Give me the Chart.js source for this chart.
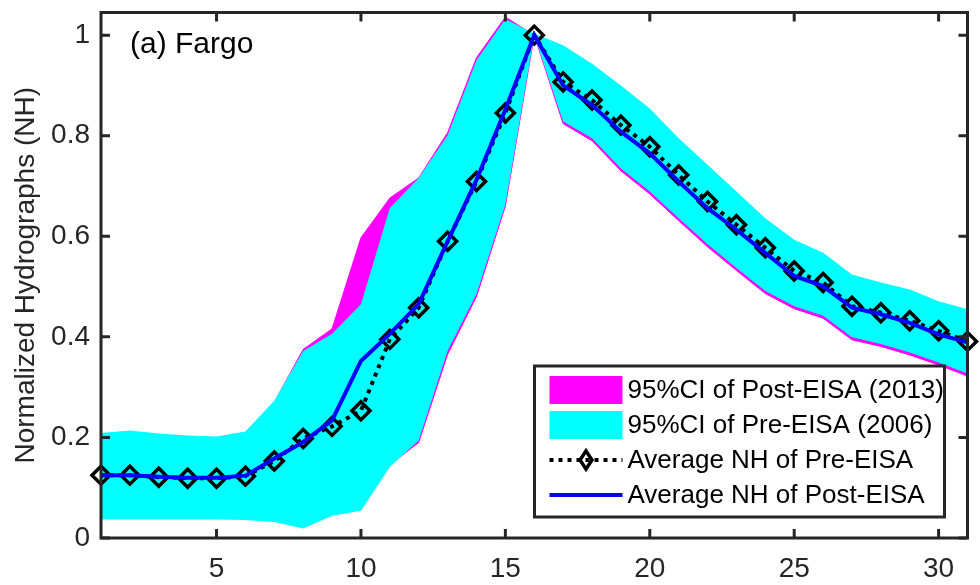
<!DOCTYPE html>
<html>
<head>
<meta charset="utf-8">
<script src="https://cdn.jsdelivr.net/npm/chart.js@4.4.1/dist/chart.umd.min.js"></script>
<style>
  html, body { margin: 0; padding: 0; background: #fff; }
  canvas { display: block; }
</style>
</head>
<body>
<canvas id="nhChart" width="980" height="585"></canvas>
<script>
// Days after event (x) and normalized hydrograph values
const days = [1,2,3,4,5,6,7,8,9,10,11,12,13,14,15,16,17,18,19,20,21,22,23,24,25,26,27,28,29,30,31];

const preAvg = [0.125,0.125,0.121,0.119,0.119,0.123,0.153,0.198,0.222,0.253,0.395,0.458,0.590,0.709,0.845,1.000,
  0.907,0.871,0.821,0.778,0.722,0.669,0.623,0.577,0.531,0.508,0.461,0.448,0.432,0.412,0.391];
const postAvg = [0.125,0.125,0.122,0.120,0.120,0.124,0.158,0.191,0.234,0.352,0.406,0.465,0.590,0.712,0.852,1.000,
  0.900,0.861,0.808,0.765,0.709,0.656,0.613,0.567,0.521,0.501,0.458,0.445,0.428,0.405,0.389];

// 95% CI of Pre-EISA (2006)
const preLow = [0.037,0.037,0.037,0.037,0.037,0.036,0.032,0.019,0.044,0.054,0.141,0.194,0.372,0.485,0.663,1.000,
  0.828,0.795,0.735,0.689,0.636,0.584,0.537,0.491,0.461,0.442,0.399,0.386,0.369,0.349,0.327];
const preHigh = [0.209,0.214,0.208,0.204,0.202,0.212,0.273,0.372,0.406,0.465,0.656,0.716,0.801,0.950,1.032,1.003,
  0.980,0.943,0.900,0.854,0.795,0.742,0.689,0.636,0.593,0.567,0.524,0.508,0.494,0.471,0.455];

// 95% CI of Post-EISA (2013)
const postLow = [0.040,0.040,0.040,0.040,0.040,0.039,0.035,0.022,0.047,0.058,0.145,0.190,0.365,0.480,0.660,1.000,
  0.824,0.790,0.730,0.684,0.631,0.579,0.532,0.486,0.456,0.437,0.394,0.381,0.364,0.344,0.322];
const postHigh = [0.205,0.210,0.205,0.200,0.198,0.210,0.270,0.375,0.416,0.597,0.676,0.716,0.806,0.955,1.036,1.000,
  0.975,0.935,0.890,0.845,0.785,0.730,0.680,0.625,0.585,0.555,0.515,0.500,0.485,0.460,0.445];

const xTicks = [5, 10, 15, 20, 25, 30];
const yTicks = [0, 0.2, 0.4, 0.6, 0.8, 1];
const yTickLabels = ['0', '0.2', '0.4', '0.6', '0.8', '1'];

const FONT = '"Liberation Sans", Arial, Helvetica, sans-serif';
const AXIS_COLOR = '#262626';

const pts = arr => arr.map((v, i) => ({ x: days[i], y: v }));

// Box with inward ticks on all four sides, like a MATLAB axes
const framePlugin = {
  id: 'frame',
  afterDatasetsDraw(chart) {
    const { ctx, chartArea: a, scales: { x, y } } = chart;
    const tl = 9;
    ctx.save();
    ctx.strokeStyle = AXIS_COLOR;
    ctx.lineWidth = 3;
    ctx.beginPath();
    xTicks.forEach(v => {
      const px = x.getPixelForValue(v);
      ctx.moveTo(px, a.bottom); ctx.lineTo(px, a.bottom - tl);
      ctx.moveTo(px, a.top); ctx.lineTo(px, a.top + tl);
    });
    yTicks.forEach(v => {
      const py = y.getPixelForValue(v);
      ctx.moveTo(a.left, py); ctx.lineTo(a.left + tl, py);
      ctx.moveTo(a.right, py); ctx.lineTo(a.right - tl, py);
    });
    ctx.stroke();
    ctx.strokeRect(a.left, a.top, a.right - a.left, a.bottom - a.top);

    ctx.fillStyle = '#000';
    ctx.font = '30px ' + FONT;
    ctx.textBaseline = 'alphabetic';
    ctx.fillText('(a) Fargo', a.left + 29, a.top + 40);
    ctx.restore();
  }
};

// Legend box in the lower right of the plot area
const legendPlugin = {
  id: 'boxLegend',
  afterDraw(chart) {
    const { ctx, chartArea: a } = chart;
    const bx = a.right - 433, by = a.bottom - 172, bw = 410, bh = 151;
    ctx.save();
    ctx.fillStyle = '#fff';
    ctx.fillRect(bx, by, bw, bh);

    const sx = bx + 15, sw = 73, tx = bx + 93;
    const rows = [by + 24, by + 59, by + 94, by + 129];

    ctx.fillStyle = '#FF00FF';
    ctx.fillRect(sx, rows[0] - 14, sw, 28);
    ctx.fillStyle = '#00FFFF';
    ctx.fillRect(sx, rows[1] - 14, sw, 28);

    ctx.strokeStyle = '#000';
    ctx.lineWidth = 4;
    ctx.setLineDash([4, 5]);
    ctx.beginPath();
    ctx.moveTo(sx, rows[2]); ctx.lineTo(sx + sw, rows[2]);
    ctx.stroke();
    ctx.setLineDash([]);
    const cx = sx + sw / 2;
    ctx.lineWidth = 3.5;
    ctx.beginPath();
    ctx.moveTo(cx, rows[2] - 9); ctx.lineTo(cx + 6, rows[2]);
    ctx.lineTo(cx, rows[2] + 9); ctx.lineTo(cx - 6, rows[2]);
    ctx.closePath();
    ctx.stroke();

    ctx.strokeStyle = '#0000FF';
    ctx.lineWidth = 4;
    ctx.beginPath();
    ctx.moveTo(sx, rows[3]); ctx.lineTo(sx + sw, rows[3]);
    ctx.stroke();

    ctx.fillStyle = '#000';
    ctx.font = '26px ' + FONT;
    ctx.textBaseline = 'middle';
    ['95%CI of Post-EISA (2013)', '95%CI of Pre-EISA (2006)',
     'Average NH of Pre-EISA', 'Average NH of Post-EISA'].forEach((t, i) => {
      ctx.fillText(t, tx, rows[i] + 1);
    });

    ctx.strokeStyle = AXIS_COLOR;
    ctx.lineWidth = 3;
    ctx.strokeRect(bx, by, bw, bh);
    ctx.restore();
  }
};

new Chart(document.getElementById('nhChart'), {
  type: 'line',
  data: {
    datasets: [
      { label: 'postLow', data: pts(postLow), borderColor: '#FF00FF', borderWidth: 1,
        pointRadius: 0, fill: false, order: 6 },
      { label: '95%CI of Post-EISA (2013)', data: pts(postHigh), borderColor: '#FF00FF', borderWidth: 1,
        backgroundColor: '#FF00FF', pointRadius: 0, fill: '-1', order: 5 },
      { label: 'preLow', data: pts(preLow), borderWidth: 0, borderColor: 'rgba(0,0,0,0)',
        pointRadius: 0, fill: false, order: 4 },
      { label: '95%CI of Pre-EISA (2006)', data: pts(preHigh), borderWidth: 0, borderColor: 'rgba(0,0,0,0)',
        backgroundColor: '#00FFFF', pointRadius: 0, fill: '-1', order: 3 },
      { label: 'Average NH of Pre-EISA', data: pts(preAvg), borderColor: '#000', borderWidth: 4,
        borderDash: [4, 5], pointStyle: 'rectRot', pointRadius: 9, pointBorderWidth: 3.5,
        pointBorderColor: '#000', pointBackgroundColor: 'rgba(0,0,0,0)', fill: false, clip: false, order: 2 },
      { label: 'Average NH of Post-EISA', data: pts(postAvg), borderColor: '#0000FF', borderWidth: 4,
        pointRadius: 0, fill: false, clip: false, order: 1 }
    ]
  },
  options: {
    responsive: false,
    animation: false,
    events: [],
    layout: { padding: { top: 10, right: 10, left: 0, bottom: 0 } },
    plugins: { legend: { display: false }, tooltip: { enabled: false } },
    elements: { line: { tension: 0 } },
    scales: {
      x: {
        type: 'linear', min: 1, max: 31,
        afterBuildTicks: s => { s.ticks = xTicks.map(v => ({ value: v })); },
        afterFit: s => { s.height = 47; s.paddingLeft = 0; s.paddingRight = 0; },
        grid: { display: false, drawTicks: false },
        border: { display: false },
        ticks: { padding: 14, color: AXIS_COLOR, font: { size: 28, family: FONT }, maxRotation: 0 }
      },
      y: {
        type: 'linear', min: 0, max: 1.045,
        afterBuildTicks: s => { s.ticks = yTicks.map(v => ({ value: v })); },
        afterFit: s => { s.width = 101; s.paddingTop = 0; s.paddingBottom = 0; },
        grid: { display: false, drawTicks: false },
        border: { display: false },
        ticks: { padding: 11, color: AXIS_COLOR, font: { size: 28, family: FONT },
          callback: (v) => yTickLabels[yTicks.indexOf(v)] },
        title: { display: true, text: 'Normalized Hydrographs (NH)', color: AXIS_COLOR,
          font: { size: 28, family: FONT, lineHeight: 1.2 }, padding: { top: 9, bottom: 0 } }
      }
    }
  },
  plugins: [framePlugin, legendPlugin]
});
</script>
</body>
</html>
